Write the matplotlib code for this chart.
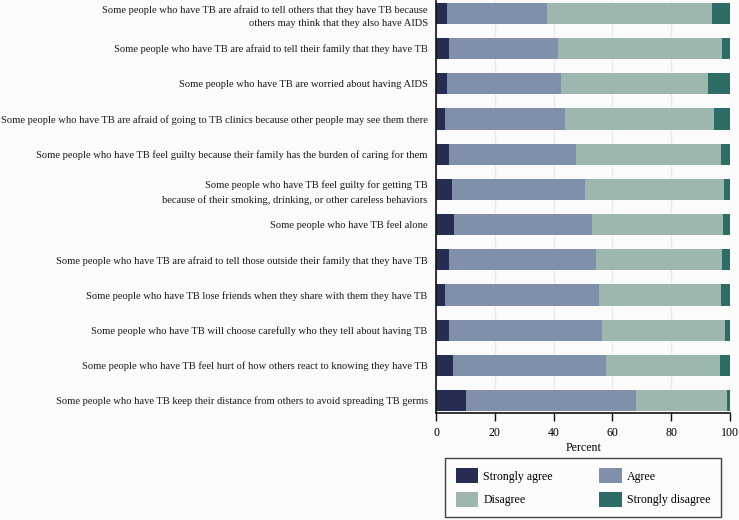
import matplotlib.pyplot as plt
import numpy as np
from matplotlib.patches import Patch

statements = [
    "Some people who have TB are afraid to tell others that they have TB because\nothers may think that they also have AIDS",
    "Some people who have TB are afraid to tell their family that they have TB",
    "Some people who have TB are worried about having AIDS",
    "Some people who have TB are afraid of going to TB clinics because other people may see them there",
    "Some people who have TB feel guilty because their family has the burden of caring for them",
    "Some people who have TB feel guilty for getting TB\nbecause of their smoking, drinking, or other careless behaviors",
    "Some people who have TB feel alone",
    "Some people who have TB are afraid to tell those outside their family that they have TB",
    "Some people who have TB lose friends when they share with them they have TB",
    "Some people who have TB will choose carefully who they tell about having TB",
    "Some people who have TB feel hurt of how others react to knowing they have TB",
    "Some people who have TB keep their distance from others to avoid spreading TB germs",
]

strongly_agree = [3.6, 4.5, 3.8, 3.2, 4.3, 5.5, 6.0, 4.3, 3.2, 4.3, 5.8, 10.2]
agree = [34.0, 36.9, 38.8, 40.5, 43.3, 45.0, 47.2, 50.1, 52.3, 52.3, 52.1, 57.9]
disagree = [56.2, 55.9, 50.0, 50.9, 49.2, 47.5, 44.4, 43.0, 41.4, 41.7, 38.7, 30.7]
strongly_disagree = [6.2, 2.7, 7.4, 5.4, 3.2, 2.0, 2.4, 2.6, 3.1, 1.7, 3.4, 1.2]

series = [
    ("Strongly agree", strongly_agree, "#262c52"),
    ("Agree", agree, "#8090aa"),
    ("Disagree", disagree, "#9db6ae"),
    ("Strongly disagree", strongly_disagree, "#2d6d65"),
]

plt.rcParams["font.family"] = ["Liberation Serif", "DejaVu Serif"]

bg = "#fbfbfc"
fig = plt.figure(figsize=(7.39, 5.2), dpi=100, facecolor=bg)
ax = fig.add_axes([0.590, 0.206, 0.398, 0.792], facecolor=bg)

y = np.arange(len(statements))
left = np.zeros(len(statements))
for label, vals, color in series:
    ax.barh(y, vals, left=left, height=0.6, color=color, linewidth=0, zorder=2)
    left += np.array(vals)

ax.set_xlim(0, 100)
ax.set_ylim(len(statements) - 0.65, -0.35)
ax.set_yticks(y)
ax.set_yticklabels(statements, fontsize=7.6, color="#1a1a1a", linespacing=1.65)
ax.tick_params(axis="y", length=0, pad=6)
ax.set_xticks([0, 20, 40, 60, 80, 100])
ax.tick_params(axis="x", length=6, width=1, labelsize=8.6, color="#111111", pad=4.5)
ax.set_xlabel("Percent", fontsize=8.6, labelpad=2)
ax.grid(axis="x", color="#e4ebf2", linewidth=1, zorder=0)

for s in ["top", "right"]:
    ax.spines[s].set_visible(False)
for s in ["left", "bottom"]:
    ax.spines[s].set_color("#111111")
    ax.spines[s].set_linewidth(1.2)

# legend is filled row by row in the reference
handles = [Patch(facecolor=c, edgecolor="none", label=l) for l, _, c in series]
handles = [handles[0], handles[2], handles[1], handles[3]]
leg = fig.legend(
    handles=handles,
    ncol=2,
    loc="center",
    bbox_to_anchor=(0.789, 0.0625),
    fontsize=8.6,
    frameon=True,
    fancybox=False,
    edgecolor="#111111",
    facecolor="#fdfdfd",
    handlelength=1.85,
    handleheight=1.5,
    handletextpad=0.45,
    columnspacing=3.9,
    labelspacing=0.75,
    borderpad=0.9,
)
leg.get_frame().set_linewidth(1.0)

fig.savefig("out.png", dpi=100, facecolor=bg)
